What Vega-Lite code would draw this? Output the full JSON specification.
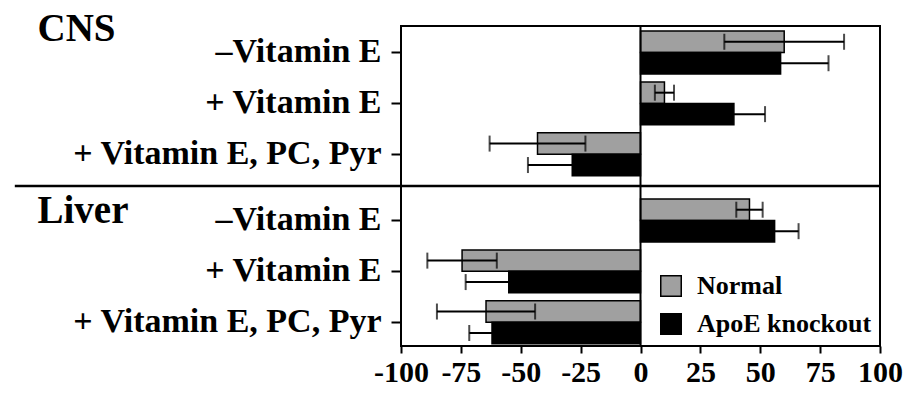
{
  "$schema": "https://vega.github.io/schema/vega-lite/v6.json",
  "background": "white",
  "padding": {"left": 12, "top": 8, "right": 5, "bottom": 5},
  "config": {
    "view": {"stroke": "black", "strokeWidth": 2},
    "font": "Liberation Serif",
    "axis": {"labelFont": "Liberation Serif", "labelFontWeight": "bold", "labelColor": "black", "tickColor": "black", "tickWidth": 2, "domain": false, "grid": false, "labelLimit": 0, "labelOverlap": false}
  },
  "datasets": {
    "d": [
      {"organ": "CNS", "treatment": "–Vitamin E", "group": "Normal", "value": 60, "lo": 35, "hi": 85},
      {"organ": "CNS", "treatment": "–Vitamin E", "group": "ApoE knockout", "value": 58.5, "lo": 38.5, "hi": 78.5},
      {"organ": "CNS", "treatment": "+ Vitamin E", "group": "Normal", "value": 10, "lo": 6, "hi": 14},
      {"organ": "CNS", "treatment": "+ Vitamin E", "group": "ApoE knockout", "value": 39, "lo": 26, "hi": 52},
      {"organ": "CNS", "treatment": "+ Vitamin E, PC, Pyr", "group": "Normal", "value": -43, "lo": -63, "hi": -23},
      {"organ": "CNS", "treatment": "+ Vitamin E, PC, Pyr", "group": "ApoE knockout", "value": -28.5, "lo": -47, "hi": -10},
      {"organ": "Liver", "treatment": "–Vitamin E", "group": "Normal", "value": 45.5, "lo": 40, "hi": 51},
      {"organ": "Liver", "treatment": "–Vitamin E", "group": "ApoE knockout", "value": 56, "lo": 46, "hi": 66},
      {"organ": "Liver", "treatment": "+ Vitamin E", "group": "Normal", "value": -74.5, "lo": -89, "hi": -60},
      {"organ": "Liver", "treatment": "+ Vitamin E", "group": "ApoE knockout", "value": -55, "lo": -73, "hi": -37},
      {"organ": "Liver", "treatment": "+ Vitamin E, PC, Pyr", "group": "Normal", "value": -64.5, "lo": -85, "hi": -44},
      {"organ": "Liver", "treatment": "+ Vitamin E, PC, Pyr", "group": "ApoE knockout", "value": -62, "lo": -71.5, "hi": -52.5}
    ]
  },
  "spacing": 0,
  "bounds": "flush",
  "resolve": {"legend": {"color": "independent"}},
  "vconcat": [
    {
      "width": 479,
      "height": 160,
      "data": {"name": "d"},
      "transform": [{"filter": "datum.organ === 'CNS'"}],
      "encoding": {
        "y": {
          "field": "treatment", "type": "nominal",
          "sort": ["–Vitamin E", "+ Vitamin E", "+ Vitamin E, PC, Pyr"],
          "scale": {"paddingInner": 0.157, "paddingOuter": 0.15, "align": 0.33},
          "axis": {"title": "CNS", "titleAngle": 0, "titleX": -364, "titleY": 14, "titleAlign": "left", "titleBaseline": "alphabetic", "titleFontSize": 39, "titleFontWeight": "bold", "titleFont": "Liberation Serif", "titleColor": "black", "labelFontSize": 34, "tickSize": 10, "labelPadding": 10}
        }
      },
      "layer": [
        {
          "mark": {"type": "bar", "stroke": "black", "strokeWidth": 1.5},
          "encoding": {
            "x": {"field": "value", "type": "quantitative", "scale": {"domain": [-100, 100], "nice": false}, "axis": null},
            "yOffset": {"field": "group", "sort": ["Normal", "ApoE knockout"], "scale": {"paddingInner": 0, "paddingOuter": 0}},
            "color": {"field": "group", "type": "nominal", "scale": {"domain": ["Normal", "ApoE knockout"], "range": ["#a0a0a0", "black"]}, "legend": null}
          }
        },
        {
          "mark": {"type": "rule", "color": "black", "strokeWidth": 2},
          "encoding": {
            "x": {"field": "lo", "type": "quantitative", "scale": {"domain": [-100, 100], "nice": false}},
            "x2": {"field": "hi"},
            "yOffset": {"field": "group", "sort": ["Normal", "ApoE knockout"], "scale": {"paddingInner": 0, "paddingOuter": 0}}
          }
        },
        {
          "mark": {"type": "tick", "color": "black", "thickness": 2, "size": 16},
          "encoding": {
            "x": {"field": "lo", "type": "quantitative", "scale": {"domain": [-100, 100], "nice": false}},
            "yOffset": {"field": "group", "sort": ["Normal", "ApoE knockout"], "scale": {"paddingInner": 0, "paddingOuter": 0}}
          }
        },
        {
          "mark": {"type": "tick", "color": "black", "thickness": 2, "size": 16},
          "encoding": {
            "x": {"field": "hi", "type": "quantitative", "scale": {"domain": [-100, 100], "nice": false}},
            "yOffset": {"field": "group", "sort": ["Normal", "ApoE knockout"], "scale": {"paddingInner": 0, "paddingOuter": 0}}
          }
        },
        {
          "data": {"values": [{}]},
          "mark": {"type": "rule", "color": "black", "strokeWidth": 2},
          "encoding": {"x": {"datum": 0}, "y": null}
        }
      ]
    },
    {
      "width": 479,
      "height": 160,
      "data": {"name": "d"},
      "transform": [{"filter": "datum.organ === 'Liver'"}],
      "encoding": {
        "y": {
          "field": "treatment", "type": "nominal",
          "sort": ["–Vitamin E", "+ Vitamin E", "+ Vitamin E, PC, Pyr"],
          "scale": {"paddingInner": 0.157, "paddingOuter": 0.15, "align": 0.85},
          "axis": {"title": "Liver", "titleAngle": 0, "titleX": -364, "titleY": 36, "titleAlign": "left", "titleBaseline": "alphabetic", "titleFontSize": 39, "titleFontWeight": "bold", "titleFont": "Liberation Serif", "titleColor": "black", "labelFontSize": 34, "tickSize": 10, "labelPadding": 10}
        }
      },
      "layer": [
        {
          "mark": {"type": "bar", "stroke": "black", "strokeWidth": 1.5},
          "encoding": {
            "x": {"field": "value", "type": "quantitative", "scale": {"domain": [-100, 100], "nice": false},
              "axis": {"title": null, "values": [-100, -75, -50, -25, 0, 25, 50, 75, 100], "labelFontSize": 30, "labelFlush": false, "tickSize": 7, "labelPadding": 4, "labelExpr": "datum.value < 0 ? '-' + abs(datum.value) : '' + datum.value"}},
            "yOffset": {"field": "group", "sort": ["Normal", "ApoE knockout"], "scale": {"paddingInner": 0, "paddingOuter": 0}},
            "color": {"field": "group", "type": "nominal", "scale": {"domain": ["Normal", "ApoE knockout"], "range": ["#a0a0a0", "black"]},
              "legend": {"title": null, "orient": "bottom-right", "offset": 8, "padding": 0, "symbolType": "square", "symbolSize": 420, "symbolStrokeColor": "black", "symbolStrokeWidth": 1.5, "labelFontSize": 26, "labelFont": "Liberation Serif", "labelFontWeight": "bold", "labelColor": "black", "labelOffset": 13, "rowPadding": 10, "labelLimit": 0}}
          }
        },
        {
          "mark": {"type": "rule", "color": "black", "strokeWidth": 2},
          "encoding": {
            "x": {"field": "lo", "type": "quantitative", "scale": {"domain": [-100, 100], "nice": false}},
            "x2": {"field": "hi"},
            "yOffset": {"field": "group", "sort": ["Normal", "ApoE knockout"], "scale": {"paddingInner": 0, "paddingOuter": 0}}
          }
        },
        {
          "mark": {"type": "tick", "color": "black", "thickness": 2, "size": 16},
          "encoding": {
            "x": {"field": "lo", "type": "quantitative", "scale": {"domain": [-100, 100], "nice": false}},
            "yOffset": {"field": "group", "sort": ["Normal", "ApoE knockout"], "scale": {"paddingInner": 0, "paddingOuter": 0}}
          }
        },
        {
          "mark": {"type": "tick", "color": "black", "thickness": 2, "size": 16},
          "encoding": {
            "x": {"field": "hi", "type": "quantitative", "scale": {"domain": [-100, 100], "nice": false}},
            "yOffset": {"field": "group", "sort": ["Normal", "ApoE knockout"], "scale": {"paddingInner": 0, "paddingOuter": 0}}
          }
        },
        {
          "data": {"values": [{}]},
          "mark": {"type": "rule", "color": "black", "strokeWidth": 2},
          "encoding": {"x": {"datum": 0}, "y": null}
        },
        {
          "data": {"values": [{}]},
          "mark": {"type": "rule", "color": "black", "strokeWidth": 2.5},
          "encoding": {"x": {"datum": -261.25}, "x2": {"datum": 100}, "y": {"value": 0}}
        }
      ]
    }
  ]
}
